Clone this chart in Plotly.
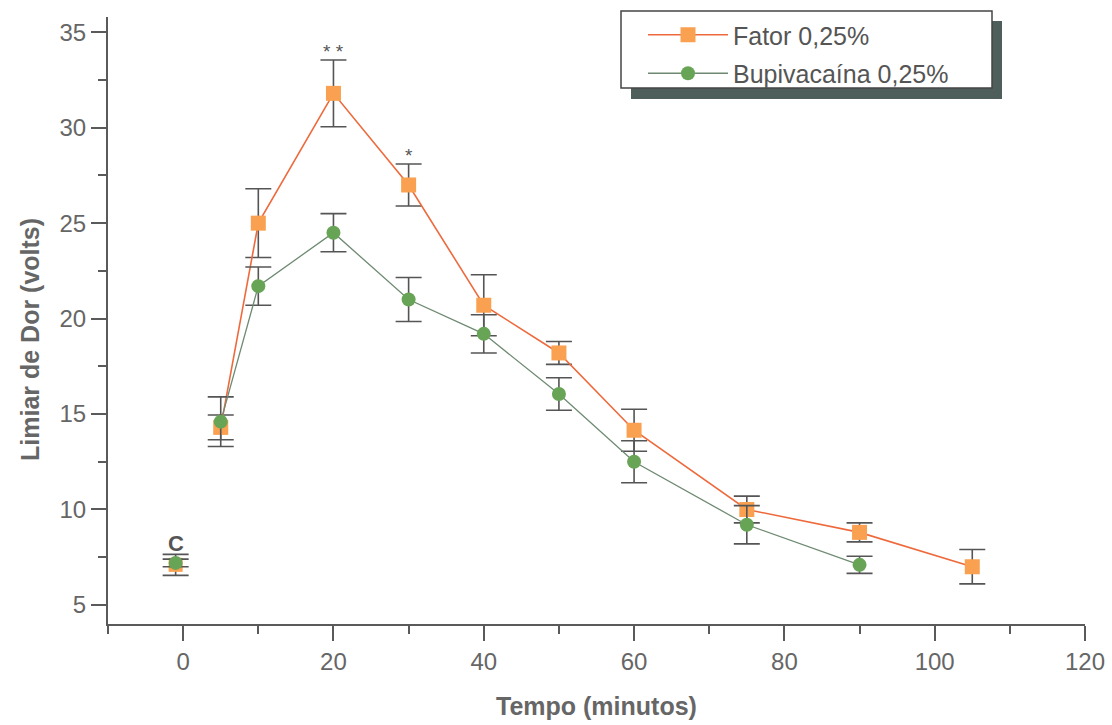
import plotly.graph_objects as go

# Control (C) point, plotted just left of 0
ctrl_x = [-1]
fator_ctrl = [7.1]
fator_ctrl_err = [0.55]
bupi_ctrl = [7.2]
bupi_ctrl_err = [0.2]

# Time course
fator_t = [5, 10, 20, 30, 40, 50, 60, 75, 90, 105]
fator_y = [14.3, 25.0, 31.8, 27.0, 20.7, 18.2, 14.15, 10.0, 8.8, 7.0]
fator_err = [0.65, 1.8, 1.75, 1.1, 1.6, 0.6, 1.1, 0.7, 0.5, 0.9]

bupi_t = [5, 10, 20, 30, 40, 50, 60, 75, 90]
bupi_y = [14.6, 21.7, 24.5, 21.0, 19.2, 16.05, 12.5, 9.2, 7.1]
bupi_err = [1.3, 1.0, 1.0, 1.15, 1.0, 0.85, 1.1, 1.0, 0.45]

x_ticks = [0, 20, 40, 60, 80, 100, 120]
y_ticks = [5, 10, 15, 20, 25, 30, 35]

ORANGE_LINE = "#ee6a3c"
ORANGE_MK = "#f9a150"
GREEN_LINE = "#6f8a72"
GREEN_MK = "#67a455"
ERR = "#555555"
AX = "#5a5a5a"

fig = go.Figure()

err_style = dict(type="data", thickness=1.6, width=13, color=ERR)

# control points (no connecting line)
fig.add_trace(go.Scatter(x=ctrl_x, y=fator_ctrl, mode="markers",
                         marker=dict(symbol="square", size=14, color=ORANGE_MK),
                         error_y=dict(array=fator_ctrl_err, **err_style),
                         showlegend=False))
fig.add_trace(go.Scatter(x=ctrl_x, y=bupi_ctrl, mode="markers",
                         marker=dict(symbol="circle", size=14, color=GREEN_MK),
                         error_y=dict(array=bupi_ctrl_err, **err_style),
                         showlegend=False))

fig.add_trace(go.Scatter(x=fator_t, y=fator_y, mode="lines+markers", name="Fator 0,25%",
                         line=dict(color=ORANGE_LINE, width=1.6),
                         marker=dict(symbol="square", size=15, color=ORANGE_MK),
                         error_y=dict(array=fator_err, **err_style),
                         legendgroup="a"))
fig.add_trace(go.Scatter(x=bupi_t, y=bupi_y, mode="lines+markers", name="Bupivacaína 0,25%",
                         line=dict(color=GREEN_LINE, width=1.3),
                         marker=dict(symbol="circle", size=14, color=GREEN_MK),
                         error_y=dict(array=bupi_err, **err_style),
                         legendgroup="b"))

# annotations
fig.add_annotation(x=-1, y=8.2, text="<b>C</b>", showarrow=False,
                   font=dict(size=22, color="#555555", family="Liberation Sans"))
fig.add_annotation(x=20, y=34.0, text="* *", showarrow=False,
                   font=dict(size=19, color="#555555", family="Liberation Sans"))
fig.add_annotation(x=30, y=28.55, text="*", showarrow=False,
                   font=dict(size=19, color="#555555", family="Liberation Sans"))

L, R, T, B = 108, 27, 17, 101
W, H = 1112, 725
pw, ph = W - L - R, H - T - B

def px2paper(px, py):
    return (px - L) / pw, (H - B - py) / ph

# legend shadow and box
sx0, sy0 = px2paper(631, 99)
sx1, sy1 = px2paper(1002, 21)
bx0, by0 = px2paper(621, 88)
bx1, by1 = px2paper(992, 11)
fig.add_shape(type="rect", xref="paper", yref="paper", x0=sx0, y0=sy0, x1=sx1, y1=sy1,
              fillcolor="#4e5e5b", line=dict(width=0), layer="above")
fig.add_shape(type="rect", xref="paper", yref="paper", x0=bx0, y0=by0, x1=bx1, y1=by1,
              fillcolor="white", line=dict(color="#444444", width=1.5), layer="above")

lx, ly = px2paper(643, 12)

title_font = dict(size=25, color="#666666", family="Liberation Sans")

# axis titles as paper annotations for exact placement
tx, ty = px2paper(596, 706)
fig.add_annotation(x=tx, y=ty, xref="paper", yref="paper", text="<b>Tempo (minutos)</b>",
                   showarrow=False, font=title_font, xanchor="center", yanchor="middle")
yx, yy = px2paper(30, 340)
fig.add_annotation(x=yx, y=yy, xref="paper", yref="paper", text="<b>Limiar de Dor (volts)</b>",
                   showarrow=False, font=title_font, textangle=-90, xanchor="center", yanchor="middle")

axis_common = dict(showline=True, linecolor=AX, linewidth=2, ticks="outside",
                   ticklen=15, tickwidth=1.5, tickcolor=AX, showgrid=False, zeroline=False,
                   automargin=False,
                   tickfont=dict(size=24, color="#666666", family="Liberation Sans"))

fig.update_layout(
    width=W, height=H,
    margin=dict(l=L, r=R, t=T, b=B),
    paper_bgcolor="white", plot_bgcolor="white",
    xaxis=dict(range=[-10, 120], tickvals=x_ticks, ticktext=[str(v) for v in x_ticks],
               minor=dict(dtick=10, tick0=0, ticklen=8, tickwidth=1.5, tickcolor=AX, ticks="outside"),
               **axis_common),
    yaxis=dict(range=[4, 35.8], tickvals=y_ticks, ticktext=[str(v) for v in y_ticks],
               minor=dict(dtick=2.5, tick0=0, ticklen=8, tickwidth=1.5, tickcolor=AX, ticks="outside"),
               **axis_common),
    showlegend=True,
    legend=dict(x=lx, y=ly, xanchor="left", yanchor="top", bgcolor="rgba(0,0,0,0)",
                borderwidth=0, itemwidth=80, tracegroupgap=3,
                font=dict(size=25, color="#555555", family="Liberation Sans")),
)

fig.write_html("out.html")
